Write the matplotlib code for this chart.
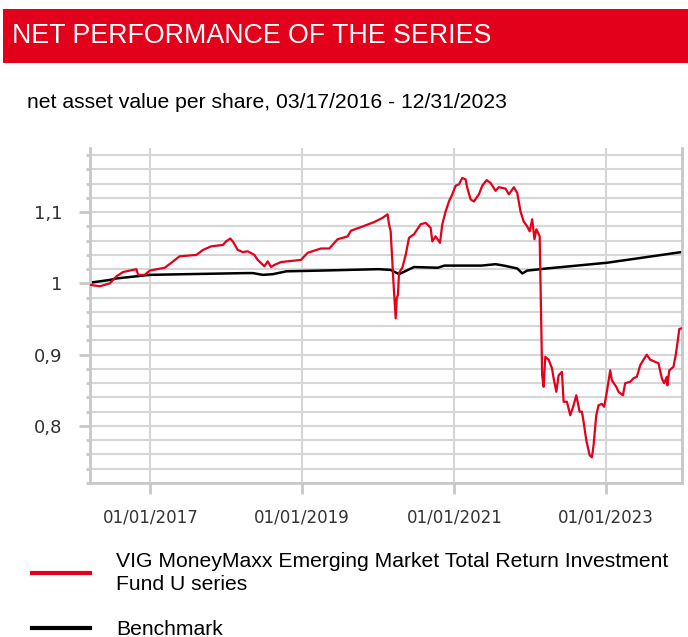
import numpy as np
import pandas as pd
import matplotlib
matplotlib.use("Agg")
import matplotlib.pyplot as plt
import matplotlib.dates as mdates
from matplotlib.ticker import MultipleLocator, FuncFormatter
from matplotlib.patches import Rectangle

# NAV per share of the fund
fund_dates = ['2016-03-17', '2016-05-03', '2016-06-20', '2016-07-22', '2016-08-23', '2016-10-10',
              '2016-10-26', '2016-11-03', '2016-12-05', '2016-12-29', '2017-03-11', '2017-04-12',
              '2017-05-21', '2017-08-10', '2017-09-11', '2017-10-20', '2017-12-16', '2017-12-31',
              '2018-01-20', '2018-02-01', '2018-02-25', '2018-03-21', '2018-04-14', '2018-05-16',
              '2018-06-01', '2018-07-03', '2018-07-19', '2018-08-04', '2018-08-20', '2018-09-21',
              '2018-11-24', '2018-12-26', '2019-01-27', '2019-04-01', '2019-05-11', '2019-06-20',
              '2019-08-07', '2019-08-23', '2019-10-10', '2019-12-12', '2020-01-22', '2020-02-15',
              '2020-02-22', '2020-03-01', '2020-03-14', '2020-03-25', '2020-03-30', '2020-04-05',
              '2020-04-10', '2020-04-26', '2020-05-12', '2020-05-28', '2020-06-21', '2020-07-07',
              '2020-07-23', '2020-08-16', '2020-09-09', '2020-09-17', '2020-10-03', '2020-10-24',
              '2020-11-04', '2020-11-20', '2020-12-06', '2020-12-22', '2021-01-07', '2021-01-23',
              '2021-02-08', '2021-02-24', '2021-03-04', '2021-03-20', '2021-04-05', '2021-04-29',
              '2021-05-15', '2021-06-05', '2021-06-24', '2021-07-18', '2021-08-03', '2021-09-04',
              '2021-09-20', '2021-10-14', '2021-10-30', '2021-11-15', '2021-11-30', '2021-12-17',
              '2021-12-29', '2022-01-10', '2022-01-21', '2022-01-30', '2022-02-15', '2022-02-27',
              '2022-03-06', '2022-03-14', '2022-03-30', '2022-04-15', '2022-04-23', '2022-05-06',
              '2022-05-17', '2022-06-02', '2022-06-10', '2022-06-26', '2022-07-12', '2022-07-28',
              '2022-08-10', '2022-08-26', '2022-09-06', '2022-09-14', '2022-09-27', '2022-10-13',
              '2022-10-24', '2022-11-01', '2022-11-14', '2022-11-25', '2022-12-11', '2022-12-22',
              '2023-01-04', '2023-01-20', '2023-01-28', '2023-02-18', '2023-03-01', '2023-03-22',
              '2023-04-02', '2023-04-26', '2023-05-12', '2023-05-28', '2023-06-13', '2023-06-29',
              '2023-07-15', '2023-07-31', '2023-09-09', '2023-09-25', '2023-10-06', '2023-10-19',
              '2023-10-22', '2023-10-31', '2023-11-20', '2023-12-01', '2023-12-09', '2023-12-18',
              '2023-12-29']
fund_values = [0.998, 0.996, 1.000, 1.010, 1.016, 1.019,
               1.020, 1.012, 1.012, 1.018, 1.022, 1.029,
               1.038, 1.040, 1.047, 1.052, 1.054, 1.059,
               1.063, 1.059, 1.047, 1.044, 1.045, 1.040,
               1.033, 1.024, 1.031, 1.023, 1.026, 1.030,
               1.032, 1.033, 1.043, 1.049, 1.049, 1.062,
               1.066, 1.074, 1.079, 1.086, 1.092, 1.097,
               1.083, 1.073, 1.003, 0.951, 0.979, 0.984,
               1.015, 1.022, 1.040, 1.064, 1.069, 1.076,
               1.083, 1.085, 1.078, 1.059, 1.066, 1.057,
               1.083, 1.101, 1.115, 1.125, 1.137, 1.139,
               1.148, 1.146, 1.134, 1.118, 1.115, 1.125,
               1.137, 1.145, 1.141, 1.130, 1.135, 1.133,
               1.125, 1.135, 1.127, 1.101, 1.087, 1.080,
               1.073, 1.090, 1.062, 1.076, 1.066, 0.871,
               0.855, 0.897, 0.893, 0.881, 0.867, 0.848,
               0.871, 0.876, 0.834, 0.834, 0.815, 0.829,
               0.843, 0.820, 0.820, 0.806, 0.780, 0.759,
               0.756, 0.773, 0.815, 0.829, 0.831, 0.827,
               0.848, 0.878, 0.864, 0.855, 0.848, 0.843,
               0.860, 0.862, 0.867, 0.869, 0.885, 0.893,
               0.900, 0.893, 0.888, 0.867, 0.860, 0.869,
               0.857, 0.878, 0.883, 0.900, 0.916, 0.936,
               0.937]

bench_dates = ['2016-03-17', '2016-06-22', '2016-07-22', '2016-10-26', '2016-12-29', '2017-06-24',
               '2018-04-07', '2018-05-09', '2018-06-26', '2018-08-13', '2018-10-17', '2019-03-29',
               '2020-01-02', '2020-03-01', '2020-04-10', '2020-06-21', '2020-10-13', '2020-11-14',
               '2021-05-11', '2021-07-18', '2021-08-27', '2021-10-30', '2021-11-24', '2021-12-17',
               '2022-03-22', '2023-01-04', '2023-07-15', '2023-12-29']
bench_values = [1.001, 1.005, 1.007, 1.010, 1.012, 1.013,
                1.0145, 1.0145, 1.012, 1.013, 1.017, 1.018,
                1.020, 1.019, 1.013, 1.023, 1.022, 1.025,
                1.025, 1.027, 1.025, 1.021, 1.014, 1.018,
                1.021, 1.029, 1.037, 1.044]

x_ticks = ['2017-01-01', '2019-01-01', '2021-01-01', '2023-01-01']
fund_label = 'VIG MoneyMaxx Emerging Market Total Return Investment\nFund U series'
bench_label = 'Benchmark'

RED = '#e2001a'
GRID = '#d6d6d6'
SPINE = '#c8c8c8'

fig = plt.figure(figsize=(6.88, 6.37), dpi=100)

# red header bar
fig.patches.append(Rectangle((3 / 688, 1 - 63 / 637), 1, 54 / 637, transform=fig.transFigure,
                             facecolor=RED, edgecolor='none', zorder=0))
fig.text(12 / 688, 1 - 36 / 637, 'NET PERFORMANCE OF THE SERIES', color='white',
         family='Liberation Sans', fontsize=19.3, va='center', ha='left')
fig.text(27 / 688, 1 - 102 / 637, 'net asset value per share, 03/17/2016 - 12/31/2023',
         color='black', family='Liberation Sans', fontsize=15.2, va='center', ha='left')

ax = fig.add_axes([90 / 688, 1 - 483 / 637, 592 / 688, 335 / 637])

l1, = ax.plot(pd.to_datetime(fund_dates), fund_values, color=RED, lw=1.6, zorder=3)
l2, = ax.plot(pd.to_datetime(bench_dates), bench_values, color='black', lw=1.8, zorder=2)

ax.set_xlim(pd.Timestamp('2016-03-17'), pd.Timestamp('2023-12-31'))
ax.set_ylim(0.72, 1.19)

ax.set_xticks(pd.to_datetime(x_ticks))
ax.xaxis.set_major_formatter(mdates.DateFormatter('%m/%d/%Y'))
ax.yaxis.set_major_locator(MultipleLocator(0.1))
ax.yaxis.set_minor_locator(MultipleLocator(0.02))
ax.yaxis.set_major_formatter(FuncFormatter(lambda v, p: f"{round(v, 2):g}".replace('.', ',')))

ax.grid(True, which='both', axis='y', color=GRID, lw=1.5)
ax.grid(True, which='major', axis='x', color=GRID, lw=1.5)
ax.set_axisbelow(True)

for side in ['left', 'bottom', 'right', 'top']:
    ax.spines[side].set_color(SPINE)
    ax.spines[side].set_linewidth(2)
ax.spines['top'].set_visible(False)

ax.tick_params(axis='y', which='major', length=8, width=2, color=SPINE, labelsize=13,
               labelcolor='#333333', pad=12)
ax.tick_params(axis='y', which='minor', length=3, width=2, color=SPINE)
ax.tick_params(axis='x', which='major', length=8, width=2, color=SPINE, labelsize=12,
               labelcolor='#333333', pad=10)

leg = fig.legend([l1, l2], [fund_label, bench_label], loc='upper left',
                 bbox_to_anchor=(32 / 688, 1 - 552 / 637), frameon=False,
                 prop={'family': 'Liberation Sans', 'size': 15.2},
                 handlelength=2.75, handletextpad=1.25, labelspacing=1.25, borderpad=0,
                 borderaxespad=0)
for h in leg.legend_handles:
    h.set_linewidth(3)
for t in leg.get_texts():
    t.set_linespacing(1.25)

fig.savefig('out.png', dpi=100)
